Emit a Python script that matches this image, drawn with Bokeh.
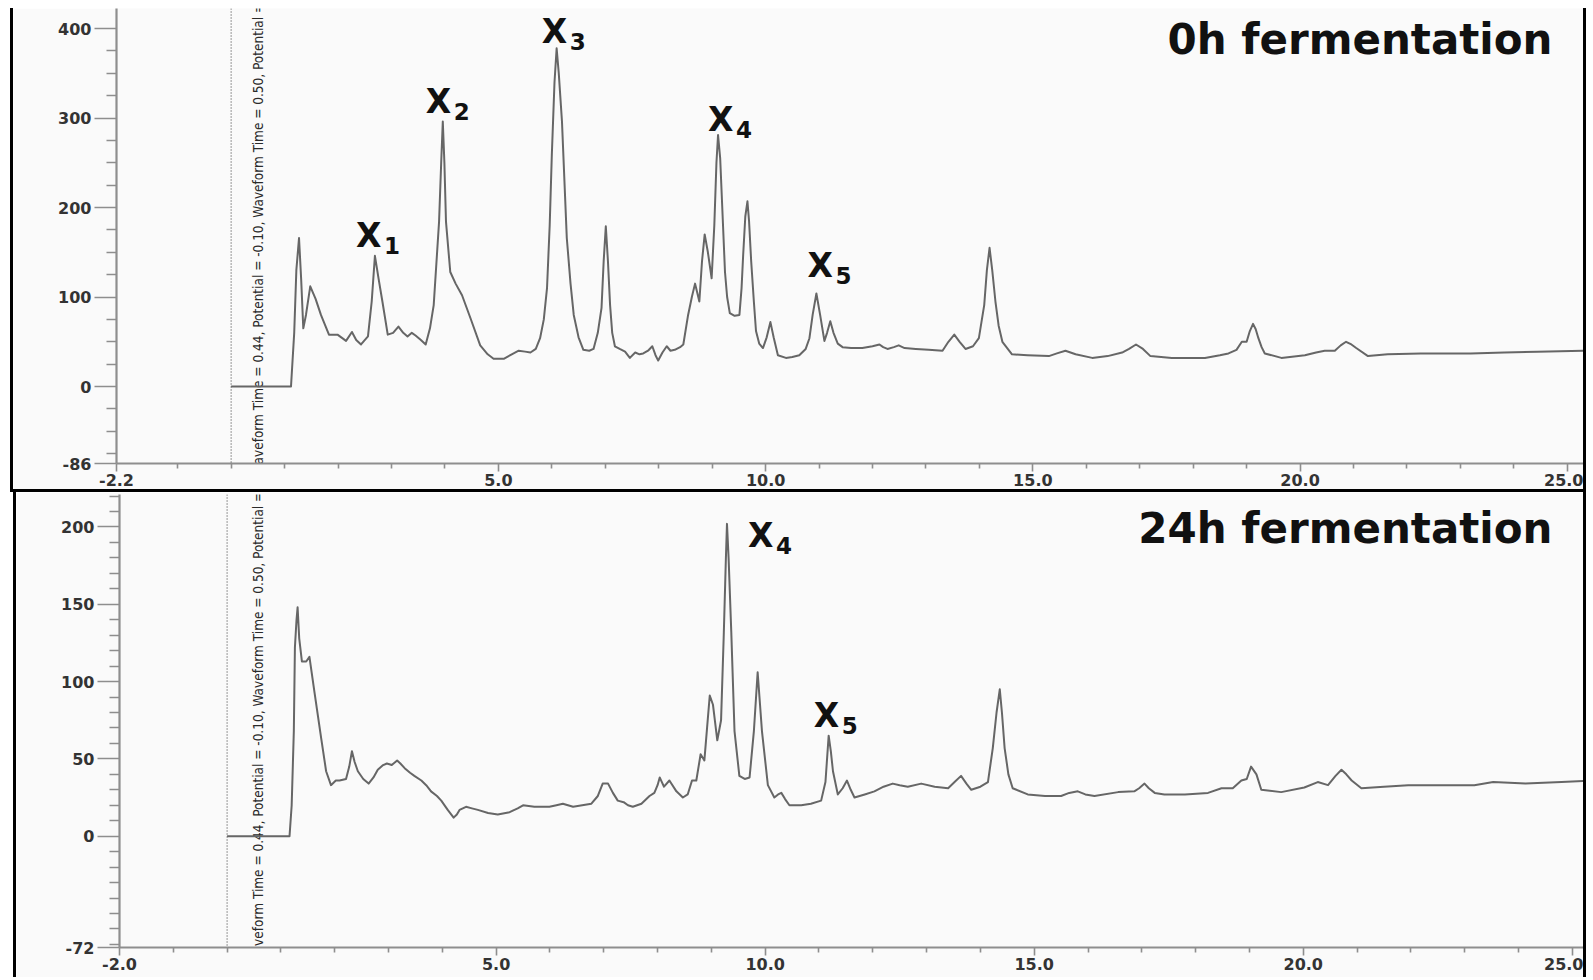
import math
from bokeh.plotting import figure
from bokeh.models import FixedTicker, PrintfTickFormatter, Span, Label, Range1d, ColumnDataSource
from bokeh.layouts import column
from bokeh.core.properties import value
from bokeh.embed import file_html
from bokeh.resources import INLINE

# ---------------- data: 0 h fermentation ----------------
t_0h = [0, 1.12, 1.18, 1.22, 1.27, 1.31, 1.35, 1.40, 1.48, 1.58, 1.68, 1.83, 1.99, 2.15, 2.26, 2.34, 2.43, 2.56,
        2.63, 2.69, 2.76, 2.83, 2.93, 3.03, 3.13, 3.22, 3.30, 3.38, 3.45, 3.55, 3.64, 3.72, 3.79, 3.89, 3.93, 3.96,
        3.99, 4.02, 4.10, 4.20, 4.32, 4.48, 4.66, 4.80, 4.91, 5.10, 5.25, 5.38, 5.50, 5.60, 5.70, 5.78, 5.85, 5.91,
        5.96, 6.00, 6.05, 6.09, 6.13, 6.19, 6.28, 6.35, 6.41, 6.50, 6.59, 6.70, 6.78, 6.86, 6.93, 6.97, 7.01, 7.05,
        7.09, 7.13, 7.18, 7.27, 7.37, 7.46, 7.56, 7.64, 7.71, 7.80, 7.88, 7.94, 7.99, 8.07, 8.15, 8.22, 8.30, 8.40,
        8.46, 8.55, 8.62, 8.68, 8.72, 8.76, 8.81, 8.86, 8.92, 8.99, 9.04, 9.08, 9.11, 9.15, 9.24, 9.28, 9.33, 9.42,
        9.51, 9.55, 9.58, 9.62, 9.66, 9.69, 9.73, 9.78, 9.82, 9.88, 9.95, 10.02, 10.09, 10.15, 10.23, 10.38, 10.50,
        10.63, 10.75, 10.82, 10.88, 10.95, 11.02, 11.10, 11.15, 11.21, 11.27, 11.35, 11.44, 11.60, 11.81, 12.00,
        12.13, 12.20, 12.28, 12.40, 12.49, 12.60, 12.81, 13.05, 13.31, 13.42, 13.53, 13.63, 13.74, 13.88, 13.99,
        14.09, 14.14, 14.19, 14.24, 14.30, 14.36, 14.43, 14.61, 14.90, 15.30, 15.45, 15.61, 15.80, 16.11, 16.40,
        16.67, 16.80, 16.93, 17.06, 17.20, 17.60, 18.22, 18.50, 18.66, 18.81, 18.91, 19.00, 19.06, 19.12, 19.17,
        19.22, 19.28, 19.34, 19.65, 20.09, 20.30, 20.46, 20.65, 20.76, 20.86, 20.96, 21.05, 21.27, 21.64, 22.26,
        23.19, 23.82, 24.44, 25.37]
v_0h = [0, 0, 60, 130, 166, 120, 65, 80, 112, 98, 80, 58, 58, 51, 61, 52, 47, 56,
        95, 146, 120, 95, 58, 60, 67, 60, 56, 60, 57, 52, 47, 65, 91, 184, 250, 296,
        250, 184, 128, 115, 102, 76, 46, 36, 31, 31, 36, 40, 39, 38, 42, 54, 75, 110,
        180, 259, 340, 378, 350, 296, 166, 115, 80, 55, 41, 40, 42, 60, 88, 140, 179, 140,
        91, 60, 45, 42, 39, 32, 38, 36, 37, 40, 45, 35, 29, 38, 45, 40, 41, 44,
        47, 80, 100, 115, 105, 95, 140, 170, 150, 121, 180, 250, 281, 255, 128, 100, 82, 79,
        80, 110, 147, 190, 207, 185, 140, 95, 62, 48, 43, 55, 72, 55, 35, 32, 33,
        35, 42, 54, 80, 104, 80, 51, 60, 73, 60, 48, 44, 43, 43, 45,
        47, 44, 42, 44, 46, 43, 42, 41, 40, 50, 58, 50, 42, 45, 54,
        91, 130, 155, 130, 95, 68, 50, 36, 35, 34, 37, 40, 36, 32, 34,
        38, 42, 47, 42, 34, 32, 32, 35, 37, 41, 50, 50, 62, 70, 64,
        54, 44, 37, 32, 35, 38, 40, 40, 46, 50, 47, 43, 34, 36, 37,
        37, 38, 39, 40]

# ---------------- data: 24 h fermentation ----------------
t_24h = [0, 1.16, 1.20, 1.24, 1.26, 1.29, 1.31, 1.34, 1.39, 1.47, 1.53, 1.62, 1.75, 1.84, 1.93, 2.02, 2.09, 2.21,
         2.27, 2.32, 2.37, 2.43, 2.53, 2.63, 2.72, 2.80, 2.90, 2.97, 3.06, 3.16, 3.22, 3.30, 3.40, 3.48, 3.61, 3.70,
         3.79, 3.90, 3.98, 4.10, 4.21, 4.27, 4.32, 4.44, 4.55, 4.66, 4.85, 5.03, 5.25, 5.40, 5.50, 5.71, 5.99, 6.12,
         6.24, 6.43, 6.60, 6.77, 6.89, 6.98, 7.08, 7.17, 7.26, 7.37, 7.45, 7.54, 7.62, 7.70, 7.85, 7.94, 8.00, 8.04,
         8.08, 8.12, 8.22, 8.35, 8.47, 8.56, 8.64, 8.72, 8.80, 8.87, 8.92, 8.97, 9.03, 9.11, 9.18, 9.23, 9.27, 9.29,
         9.32, 9.37, 9.43, 9.52, 9.62, 9.71, 9.79, 9.86, 9.94, 10.05, 10.17, 10.24, 10.30, 10.37, 10.45, 10.67,
         10.85, 11.04, 11.12, 11.18, 11.22, 11.26, 11.35, 11.44, 11.52, 11.59, 11.66, 11.85, 12.03, 12.20, 12.37,
         12.50, 12.65, 12.90, 13.15, 13.40, 13.52, 13.64, 13.74, 13.83, 14.00, 14.14, 14.23, 14.30, 14.36, 14.40,
         14.45, 14.52, 14.60, 14.88, 15.20, 15.50, 15.65, 15.81, 15.95, 16.12, 16.56, 16.86, 16.95, 17.05, 17.13,
         17.24, 17.42, 17.80, 18.23, 18.48, 18.69, 18.85, 18.95, 19.03, 19.13, 19.22, 19.59, 20.02, 20.27, 20.46,
         20.60, 20.71, 20.80, 20.90, 21.08, 21.50, 21.95, 22.60, 23.18, 23.53, 24.13, 24.80, 25.36]
v_24h = [0, 0, 20, 68, 122, 140, 148, 128, 113, 113, 116, 94, 63, 42, 33, 36, 36, 37,
         45, 55, 48, 42, 37, 34, 38, 43, 46, 47, 46, 49, 47, 44, 41, 39, 36, 33,
         29, 26, 23, 17, 12, 14, 17, 19, 18, 17, 15, 14, 15.5, 18, 20, 19, 19, 20,
         21, 19, 20, 21, 26, 34, 34, 28, 23, 22, 20, 19, 20, 21, 26, 28, 33, 38,
         35, 32, 36, 29, 25, 27, 36, 36, 53, 49, 70, 91, 85, 62, 75, 130, 180, 202,
         180, 132, 68, 39, 37, 38, 68, 106, 68, 33, 25, 27, 28, 24, 20, 20,
         21, 23, 35, 65, 55, 42, 27, 31, 36, 30, 25, 27, 29, 32, 34,
         33, 32, 34, 32, 31, 35, 39, 34, 30, 32, 35, 57, 80, 95, 80,
         57, 40, 31, 27, 26, 26, 28, 29, 27, 26, 28.5, 29, 31, 34, 31,
         28, 27, 27, 28, 31, 31, 36, 37, 45, 40, 30, 28.5, 31.5, 35, 33,
         39, 43, 40, 36, 31, 32, 33, 33, 33, 35, 34, 35, 36]

# ---------------- labelled peaks ----------------
peaks_0h_sub = ["1", "2", "3", "4", "5"]
peaks_0h_t = [2.69, 3.96, 6.09, 9.11, 10.95]
peaks_0h_v = [146, 296, 378, 281, 104]
peaks_24h_sub = ["4", "5"]
peaks_24h_t = [9.29, 11.18]
peaks_24h_v = [202, 65]

titles = ["0h fermentation", "24h fermentation"]
y_ticks_0h = [-86, 0, 100, 200, 300, 400]
y_ticks_24h = [-72, 0, 50, 100, 150, 200]
x_ticks_0h = [5.0, 10.0, 15.0, 20.0, 25.0]
x_ticks_24h = [5.0, 10.0, 15.0, 20.0, 25.0]
x_start_0h, x_start_label_0h = -2.145, "-2.2"
x_start_24h, x_start_label_24h = -2.0, "-2.0"
waveform_text = "Waveform  Time = 0.44, Potential = -0.10, Waveform  Time = 0.50, Potential = 0.50"

# label placement (pixels, relative to the peak; +dy is up)
lab_dx_0h = [-19, -17, -15, -10, -9]
lab_dy_0h = [7, 7, 4, 3, 15]
lab_dx_24h = [21, -15]
lab_dy_24h = [-25, 7]

BG = "#fafafa"
LINE = "#666666"
AX = "#8e8e8e"
TXT = "#333333"
FONT = "DejaVu Sans"
NARROW = "DejaVu Sans Condensed, Liberation Sans Narrow, Liberation Sans, sans-serif"


def panel(t, v, xr, x0_label, yr, xt, yt, ymin_step, w, h, left, top, bottom, css,
          subs, pt, pv, dx, dy, title, title_dy, wave_x, wave_y):
    p = figure(width=w, height=h, x_range=Range1d(*xr), y_range=Range1d(*yr),
               output_backend="svg", toolbar_location=None,
               min_border_left=left, min_border_right=0, min_border_top=top, min_border_bottom=bottom,
               background_fill_color=BG, border_fill_color=BG, outline_line_color=None, styles=css)
    p.xgrid.visible = False
    p.ygrid.visible = False

    majors = [xr[0]] + list(xt)
    x_minor = [k for k in range(int(math.ceil(xr[0])), int(xr[1]) + 1)
               if k not in xt and k - xr[0] > 0.3]
    y_minor = [k for k in range(int(math.ceil(yr[0] / ymin_step)) * ymin_step, int(yr[1]) + 1, ymin_step)
               if k not in yt and k > yr[0]]
    p.xaxis.ticker = FixedTicker(ticks=majors, minor_ticks=x_minor)
    p.yaxis.ticker = FixedTicker(ticks=yt, minor_ticks=y_minor)
    p.xaxis.formatter = PrintfTickFormatter(format="%.1f")
    p.xaxis.major_label_overrides = {xr[0]: x0_label}
    p.yaxis.formatter = PrintfTickFormatter(format="%d")
    for ax in (p.xaxis, p.yaxis):
        ax.axis_line_color = AX
        ax.axis_line_width = 2.2
        ax.major_tick_line_color = AX
        ax.minor_tick_line_color = AX
        ax.major_tick_line_width = 1.6
        ax.minor_tick_line_width = 1.6
        ax.major_tick_in = 0
        ax.minor_tick_in = 0
        ax.major_label_text_font = FONT
        ax.major_label_text_font_style = "bold"
        ax.major_label_text_font_size = "16px"
        ax.major_label_text_color = TXT
    p.yaxis.major_tick_out = 22
    p.yaxis.minor_tick_out = 10
    p.yaxis.major_label_standoff = 3
    p.xaxis.major_tick_out = 8
    p.xaxis.minor_tick_out = 5
    p.xaxis.major_label_standoff = 2

    p.add_layout(Span(location=0, dimension="height", line_color="#555555",
                      line_dash="1 2", line_width=1.2))

    p.text(x=[wave_x], y=[wave_y], text=[waveform_text], angle=math.pi / 2,
           text_align="left", text_baseline="middle", text_color="#2a2a2a",
           text_font=value(NARROW), text_font_size="13.5px")

    p.line(t, v, line_color=LINE, line_width=2, line_join="round")

    # text glyph: positive y_offset moves down; baseline sits ~0.4 em lower than the anchor
    src = ColumnDataSource(dict(t=pt, v=pv, sub=subs, dx=dx, dy=[-d - 13 for d in dy],
                                sdx=[d + 28 for d in dx], sdy=[-d - 3 for d in dy]))
    p.text(x="t", y="v", text=value("X"), x_offset="dx", y_offset="dy", source=src,
           text_align="left", text_baseline="alphabetic", text_color="#111111",
           text_font=value(FONT), text_font_style="bold", text_font_size="33px")
    p.text(x="t", y="v", text="sub", x_offset="sdx", y_offset="sdy", source=src,
           text_align="left", text_baseline="alphabetic", text_color="#111111",
           text_font=value(FONT), text_font_style="bold", text_font_size="23px")

    p.add_layout(Label(x=xr[1], y=yr[1], x_offset=-37, y_offset=title_dy, text=title,
                       text_align="right", text_baseline="alphabetic", text_color="#111111",
                       text_font=FONT, text_font_style="bold", text_font_size="42px"))
    return p


top_css = {"margin-left": "10px", "margin-top": "8px",
           "border-left": "3px solid #000", "border-right": "3px solid #000", "border-bottom": "3px solid #000"}
bot_css = {"margin-left": "13px", "border-left": "3px solid #000", "border-right": "3px solid #000"}

p0 = panel(t_0h, v_0h, (x_start_0h, x_start_0h + 27.56), x_start_label_0h, (-86, 422.4),
           x_ticks_0h, y_ticks_0h, 25,
           1576, 484, 97, 0, 29, top_css, peaks_0h_sub, peaks_0h_t, peaks_0h_v, lab_dx_0h, lab_dy_0h,
           titles[0], -31, 0.51, -99.5)
p1 = panel(t_24h, v_24h, (x_start_24h, 25.32), x_start_label_24h, (-72, 221.0),
           x_ticks_24h, y_ticks_24h, 10,
           1573, 485, 103, 2, 30, bot_css, peaks_24h_sub, peaks_24h_t, peaks_24h_v, lab_dx_24h, lab_dy_24h,
           titles[1], -34, 0.57, -83)

layout = column(p0, p1, spacing=0)
open("out.html", "w").write(file_html(layout, INLINE))
